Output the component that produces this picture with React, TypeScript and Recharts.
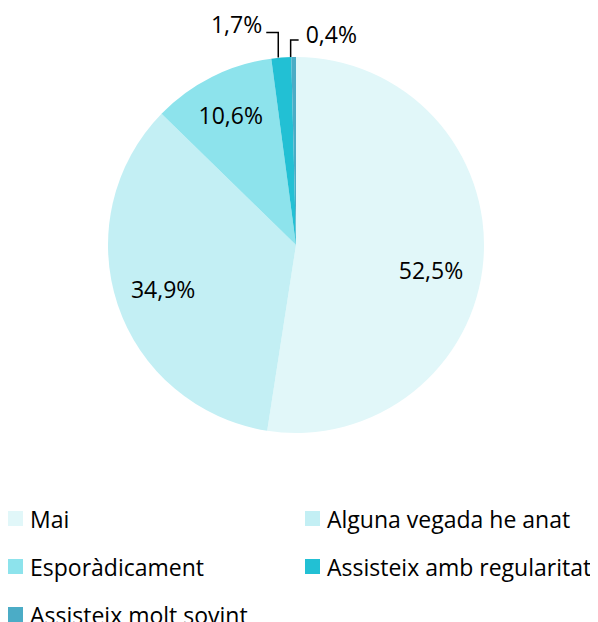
import React from "react";
import { PieChart, Pie, Cell, Legend } from "recharts";

const categories = [
  "Mai",
  "Alguna vegada he anat",
  "Esporàdicament",
  "Assisteix amb regularitat",
  "Assisteix molt sovint",
];
const values = [52.5, 34.9, 10.6, 1.7, 0.4];
const labels = ["52,5%", "34,9%", "10,6%", "1,7%", "0,4%"];
const colors = ["#e1f7f9", "#c3eff4", "#8de3ec", "#22c0d4", "#4bacc6"];

const data = categories.map((name, i) => ({ name, value: values[i], label: labels[i] }));

const FONT = "'Open Sans', sans-serif";
const RADIAN = Math.PI / 180;
const labelDy = [15, 0, 0];
const labelR = [0.72, 0.745, 0.775];

const renderLabel = (props: any) => {
  const { cx, cy, midAngle, outerRadius, index } = props;
  const cos = Math.cos(-midAngle * RADIAN);
  const sin = Math.sin(-midAngle * RADIAN);
  if (index <= 2) {
    const r = outerRadius * labelR[index];
    const x = cx + r * cos;
    const y = cy + r * sin + labelDy[index];
    return (
      <text x={x} y={y} textAnchor="middle" dominantBaseline="central" fontSize={23} fontFamily={FONT} fill="#000">
        {labels[index]}
      </text>
    );
  }
  const ex = cx + outerRadius * cos;
  const ey = cy + outerRadius * sin;
  if (index === 3) {
    const yTop = ey - 25;
    return (
      <g>
        <polyline points={`${ex - 3},${ey} ${ex - 3},${yTop} ${ex - 15},${yTop}`} fill="none" stroke="#000" strokeWidth={1.5} />
        <text x={ex - 19} y={yTop - 9} textAnchor="end" dominantBaseline="central" fontSize={23} fontFamily={FONT} fill="#000">
          {labels[index]}
        </text>
      </g>
    );
  }
  const yTop = ey - 17;
  return (
    <g>
      <polyline points={`${ex - 3},${ey} ${ex - 3},${yTop} ${ex + 5},${yTop}`} fill="none" stroke="#000" strokeWidth={1.5} />
      <text x={ex + 12} y={yTop - 6} textAnchor="start" dominantBaseline="central" fontSize={23} fontFamily={FONT} fill="#000">
        {labels[index]}
      </text>
    </g>
  );
};

const renderLegend = () => {
  const pos = [
    [0, 510.5],
    [297, 510.5],
    [0, 558.5],
    [297, 558.5],
    [0, 606.5],
  ];
  return (
    <div style={{ position: "relative", width: 590, height: 114 }}>
      {categories.map((c, i) => (
        <div
          key={c}
          style={{
            position: "absolute",
            left: pos[i][0],
            top: pos[i][1] - 500 - 15,
            height: 30,
            display: "flex",
            alignItems: "center",
            fontFamily: FONT,
            fontSize: 23,
            color: "#000",
            whiteSpace: "nowrap",
          }}
        >
          <span style={{ display: "inline-block", width: 15, height: 15, background: colors[i], marginRight: 7 }} />
          {c}
        </div>
      ))}
    </div>
  );
};

export default function App() {
  return (
    <PieChart width={590} height={614} margin={{ top: 0, right: 0, bottom: 0, left: 0 }}>
      <Pie
        data={data}
        dataKey="value"
        nameKey="name"
        cx={288}
        cy={237}
        outerRadius={188}
        startAngle={90}
        endAngle={-270}
        stroke="none"
        label={renderLabel}
        labelLine={false}
        isAnimationActive={false}
      >
        {data.map((d, i) => (
          <Cell key={d.name} fill={colors[i]} />
        ))}
      </Pie>
      <Legend
        content={renderLegend}
        wrapperStyle={{ position: "absolute", left: 0, top: 500, width: 590, height: 114 }}
      />
    </PieChart>
  );
}
